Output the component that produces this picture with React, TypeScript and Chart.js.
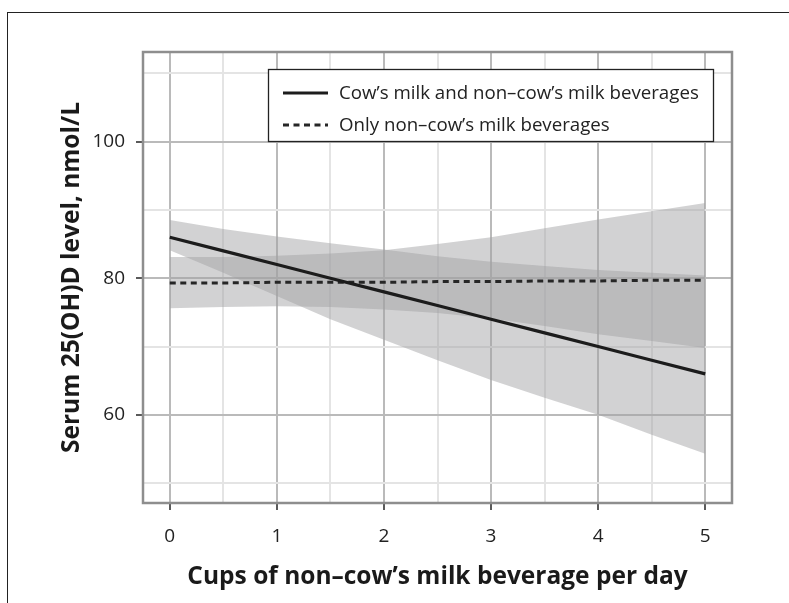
import React, { useEffect, useRef } from 'react';
import { Chart, registerables } from 'chart.js';

Chart.register(...registerables);

// ---- Data ----
const xValues = [0, 0.5, 1, 1.5, 2, 2.5, 3, 3.5, 4, 4.5, 5];

// Cow's milk and non-cow's milk beverages (solid line) and its band
const cowMean = [86.0, 84.0, 82.0, 80.0, 78.0, 76.0, 74.0, 72.0, 70.0, 68.0, 66.0];
const cowUpper = [88.5, 87.2, 86.1, 85.1, 84.2, 83.2, 82.4, 81.8, 81.2, 80.8, 80.4];
const cowLower = [84.1, 80.8, 77.4, 74.0, 71.0, 68.0, 65.1, 62.5, 60.0, 57.1, 54.3];

// Only non-cow's milk beverages (dashed line) and its band
const nonMean = [79.3, 79.3, 79.4, 79.4, 79.4, 79.5, 79.5, 79.6, 79.6, 79.7, 79.7];
const nonUpper = [83.1, 83.1, 83.3, 83.6, 84.1, 85.0, 86.0, 87.3, 88.6, 89.8, 91.0];
const nonLower = [75.6, 75.8, 75.9, 75.8, 75.4, 74.9, 74.1, 73.0, 71.8, 70.8, 69.8];

const seriesLabels = [
  'Cow\u2019s milk and non\u2013cow\u2019s milk beverages',
  'Only non\u2013cow\u2019s milk beverages',
];

const xTickValues = [0, 0.5, 1, 1.5, 2, 2.5, 3, 3.5, 4, 4.5, 5];
const xLabelledTicks = [0, 1, 2, 3, 4, 5];
const yTickValues = [50, 60, 70, 80, 90, 100, 110];
const yLabelledTicks = [60, 80, 100];

const xTitle = 'Cups of non\u2013cow\u2019s milk beverage per day';
const yTitle = 'Serum 25(OH)D level, nmol/L';

const FONT = '"Open Sans", "Noto Sans", sans-serif';
const BAND = 'rgba(160,160,164,0.48)';
const MAJOR_GRID = '#bababa';
const MINOR_GRID = '#e4e4e4';

const pts = (ys: number[]) => xValues.map((x, i) => ({ x, y: ys[i] }));

const panelPlugin = {
  id: 'panelBorderAndLegend',
  afterDraw(chart: any) {
    const { ctx, chartArea: a } = chart;
    ctx.save();
    // panel border
    ctx.strokeStyle = '#8e8e8e';
    ctx.lineWidth = 2.5;
    ctx.setLineDash([]);
    ctx.strokeRect(a.left, a.top, a.right - a.left, a.bottom - a.top);

    // legend box
    const x0 = a.left + 125;
    const y0 = a.top + 17;
    const w = 445;
    const h = 72;
    ctx.fillStyle = '#ffffff';
    ctx.fillRect(x0, y0, w, h);
    ctx.strokeStyle = '#222222';
    ctx.lineWidth = 1.3;
    ctx.strokeRect(x0 + 0.5, y0 + 0.5, w, h);
    for (let i = 0; i < 2; i++) {
      const ds = chart.data.datasets[i];
      const y = y0 + 24 + i * 32;
      ctx.beginPath();
      ctx.setLineDash(ds.borderDash || []);
      ctx.lineWidth = ds.borderWidth;
      ctx.strokeStyle = ds.borderColor;
      ctx.moveTo(x0 + 15, y);
      ctx.lineTo(x0 + 60, y);
      ctx.stroke();
      ctx.setLineDash([]);
      ctx.fillStyle = '#222222';
      ctx.font = `18.7px ${FONT}`;
      ctx.textBaseline = 'middle';
      ctx.textAlign = 'left';
      ctx.fillText(ds.label, x0 + 71, y + 1);
    }
    ctx.restore();
  },
};

export default function App() {
  const canvasRef = useRef<HTMLCanvasElement | null>(null);

  useEffect(() => {
    let chart: Chart | null = null;
    let cancelled = false;
    const make = () => {
      if (cancelled || !canvasRef.current) return;
      chart = new Chart(canvasRef.current, {
        type: 'line',
        data: {
          datasets: [
            {
              label: seriesLabels[0],
              data: pts(cowMean),
              borderColor: '#1c1c1c',
              borderWidth: 3.2,
              pointRadius: 0,
              fill: false,
              tension: 0,
            },
            {
              label: seriesLabels[1],
              data: pts(nonMean),
              borderColor: '#262626',
              borderWidth: 3,
              borderDash: [6, 4.5],
              pointRadius: 0,
              fill: false,
              tension: 0,
            },
            {
              label: 'cowUpper',
              data: pts(cowUpper),
              borderColor: 'rgba(0,0,0,0)',
              borderWidth: 0,
              pointRadius: 0,
              backgroundColor: BAND,
              fill: 3,
            },
            {
              label: 'cowLower',
              data: pts(cowLower),
              borderColor: 'rgba(0,0,0,0)',
              borderWidth: 0,
              pointRadius: 0,
              fill: false,
            },
            {
              label: 'nonUpper',
              data: pts(nonUpper),
              borderColor: 'rgba(0,0,0,0)',
              borderWidth: 0,
              pointRadius: 0,
              backgroundColor: BAND,
              fill: 5,
            },
            {
              label: 'nonLower',
              data: pts(nonLower),
              borderColor: 'rgba(0,0,0,0)',
              borderWidth: 0,
              pointRadius: 0,
              fill: false,
            },
          ],
        },
        options: {
          animation: false,
          responsive: false,
          devicePixelRatio: 1,
          layout: { padding: { left: 0, right: 57, top: 52, bottom: 0 } },
          plugins: {
            legend: { display: false },
            tooltip: { enabled: false },
            filler: { drawTime: 'beforeDatasetsDraw' },
          },
          scales: {
            x: {
              type: 'linear',
              min: -0.25,
              max: 5.25,
              afterBuildTicks: (s: any) => {
                s.ticks = xTickValues.map((v) => ({ value: v }));
              },
              afterFit: (s: any) => {
                s.height = 100;
              },
              ticks: {
                autoSkip: false,
                maxRotation: 0,
                padding: 15,
                color: '#222222',
                font: { family: FONT, size: 19 },
                callback: (v: any) => (xLabelledTicks.includes(Number(v)) ? String(v) : ''),
              },
              grid: {
                color: (c: any) => (xLabelledTicks.includes(c.tick?.value) ? MAJOR_GRID : MINOR_GRID),
                lineWidth: 2,
                tickColor: (c: any) => (xLabelledTicks.includes(c.tick?.value) ? '#5a5a5a' : 'rgba(0,0,0,0)'),
                tickLength: 7,
                tickWidth: 2,
              },
              border: { display: false },
              title: {
                display: true,
                text: xTitle,
                color: '#1a1a1a',
                font: { family: FONT, size: 24.5, weight: 'bold' },
                padding: { top: 0, bottom: 11 },
              },
            },
            y: {
              type: 'linear',
              min: 47.1,
              max: 113.1,
              afterBuildTicks: (s: any) => {
                s.ticks = yTickValues.map((v) => ({ value: v }));
              },
              afterFit: (s: any) => {
                s.width = 143;
              },
              ticks: {
                autoSkip: false,
                padding: 11,
                color: '#222222',
                font: { family: FONT, size: 19 },
                callback: (v: any) => (yLabelledTicks.includes(Number(v)) ? String(v) : ''),
              },
              grid: {
                color: (c: any) => (yLabelledTicks.includes(c.tick?.value) ? MAJOR_GRID : MINOR_GRID),
                lineWidth: 2,
                tickColor: (c: any) => (yLabelledTicks.includes(c.tick?.value) ? '#5a5a5a' : 'rgba(0,0,0,0)'),
                tickLength: 7,
                tickWidth: 2,
              },
              border: { display: false },
              title: {
                display: true,
                text: yTitle,
                color: '#1a1a1a',
                font: { family: FONT, size: 24.5, weight: 'bold' },
                padding: { top: 57, bottom: 0 },
              },
            },
          },
        },
        plugins: [panelPlugin],
      } as any);
    };
    const loads = (document as any).fonts
      ? Promise.all([
          (document as any).fonts.load(`19px "Open Sans"`),
          (document as any).fonts.load(`bold 24px "Open Sans"`),
        ]).catch(() => null)
      : Promise.resolve(null);
    loads.then(make);
    return () => {
      cancelled = true;
      if (chart) chart.destroy();
    };
  }, []);

  return (
    <div style={{ position: 'absolute', left: 0, top: 0, width: 789, height: 603, overflow: 'hidden', background: '#fff' }}>
      <div
        style={{
          position: 'absolute',
          left: 7,
          top: 12,
          width: 800,
          height: 620,
          borderLeft: '1.5px solid #222',
          borderTop: '1.5px solid #222',
        }}
      />
      <canvas ref={canvasRef} width={789} height={603} style={{ position: 'absolute', left: 0, top: 0 }} />
    </div>
  );
}
